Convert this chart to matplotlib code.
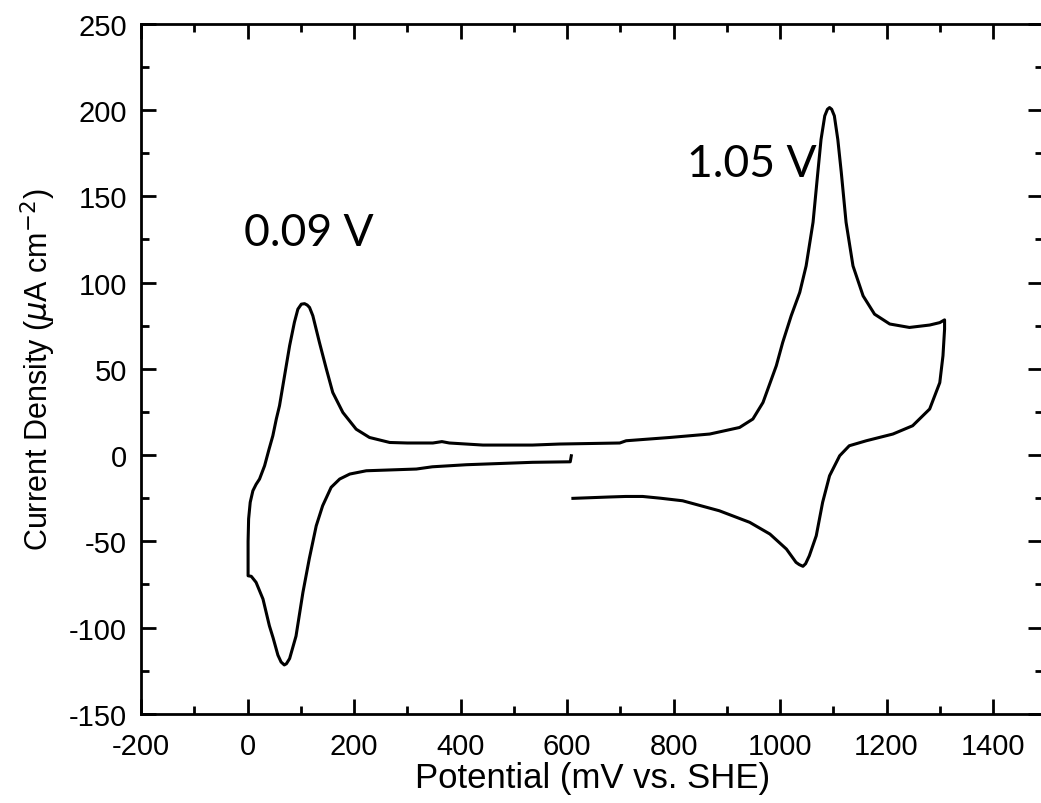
import matplotlib.pyplot as plt
from matplotlib.ticker import MultipleLocator

plt.rcParams['axes.unicode_minus'] = False

# cyclic voltammogram (start at ~610 mV, cathodic first)
potencial = [608, 606, 535, 411, 347, 317, 270, 223, 192, 173, 157, 141, 129, 116, 104, 91, 79,
             73, 69, 63, 57, 48, 41, 29, 16, 7, 1, 1, 2, 5, 10, 16, 22.5, 32, 40, 47.5, 54, 60,
             69.5, 79, 88, 94.5, 101, 107, 112, 116.4, 122.6, 135, 148, 160, 179, 204, 229, 267,
             300, 348, 365, 379, 442, 535, 586, 699, 711, 793, 868, 924, 949, 968, 993, 1005,
             1021, 1037, 1049, 1062, 1071, 1077, 1084, 1089, 1093, 1097, 1102, 1108.5, 1115,
             1124, 1137, 1156, 1177.5, 1206, 1243, 1281, 1300, 1309, 1309, 1306, 1300, 1281,
             1249, 1212, 1162, 1130, 1112, 1093, 1080, 1068, 1055, 1048, 1043, 1036, 1030, 1012,
             981, 943, 886, 817, 775, 742, 710, 680, 611]
corrente = [-0.4, -3.9, -4.2, -5.6, -6.8, -8.1, -8.6, -9.1, -11, -13.9, -18.7, -29.4, -41, -60,
            -79.6, -105, -118, -121, -121.7, -120, -116, -106, -99, -83.5, -73.8, -70.3, -70,
            -50, -37, -27.4, -20.7, -17, -13.9, -6.2, 3, 11.2, 20.9, 28.6, 46, 63.4, 77, 84.6,
            87.5, 87.8, 87, 85.6, 80.8, 65.3, 49.9, 36.3, 24.7, 15, 10.2, 7.3, 7, 7, 7.8, 7, 5.8,
            5.8, 6.4, 7, 8.3, 10.2, 12.2, 16, 20.9, 30.5, 51.8, 65.3, 80.8, 94.3, 109.7, 135, 164,
            183, 196.7, 200.5, 201.5, 200.5, 196.7, 183, 164, 135, 109.7, 92.3, 81.7, 76, 74,
            75.4, 76.8, 78.4, 73, 57.6, 42, 26.7, 17, 12.2, 8.3, 5.4, -0.4, -12, -27.4, -46.8,
            -58.4, -63, -64.5, -63.5, -62.2, -54.5, -45.8, -39, -32.3, -26.5, -25, -24, -24,
            -24.3, -25.1]

fig = plt.figure(figsize=(10.41, 8.04), dpi=100)
ax = fig.add_axes([0.1355, 0.111, 0.8665, 0.858])

ax.plot(potencial, corrente, color='black', lw=2.2, solid_joinstyle='round')

ax.set_xlim(-200, 1494)
ax.set_ylim(-150, 250)
ax.xaxis.set_major_locator(MultipleLocator(200))
ax.xaxis.set_minor_locator(MultipleLocator(100))
ax.yaxis.set_major_locator(MultipleLocator(50))
ax.yaxis.set_minor_locator(MultipleLocator(25))
ax.tick_params(which='both', direction='in', top=True, right=True, width=2)
ax.tick_params(which='major', length=11, labelsize=21)
ax.tick_params(axis='x', which='major', pad=13)
ax.tick_params(axis='y', which='major', pad=10)
ax.tick_params(which='minor', length=6)
for s in ax.spines.values():
    s.set_linewidth(2)
for lab in ax.get_xticklabels() + ax.get_yticklabels():
    lab.set_family('Liberation Sans')

ax.set_xlabel('Potential (mV vs. SHE)', fontsize=25, family='Liberation Sans', labelpad=1)
ax.set_ylabel(r'Current Density ($\mu$A cm$^{-2}$)', fontsize=22, family='Liberation Sans', labelpad=8)

ax.text(-6, 122, '0.09 V', fontsize=32, family='Lato', va='baseline')
ax.text(826, 162, '1.05 V', fontsize=32, family='Lato', va='baseline')

plt.savefig('out.png', dpi=100)
